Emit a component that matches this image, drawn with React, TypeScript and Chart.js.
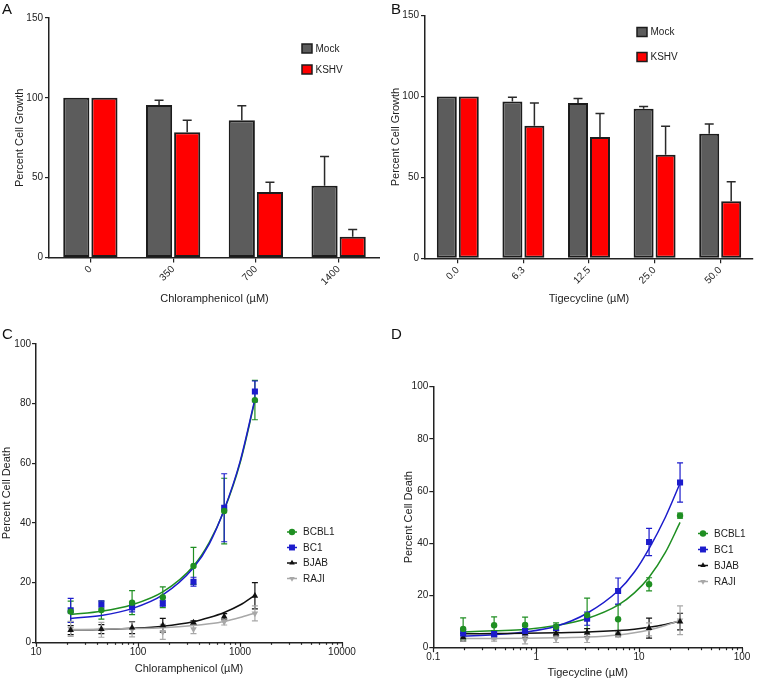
import React, { useEffect, useRef } from 'react';
import { Chart, registerables } from 'chart.js';

Chart.register(...registerables);

const FONT = "'Liberation Sans', Arial, Helvetica, sans-serif";
Chart.defaults.font.family = FONT;
Chart.defaults.color = '#222';

// ---------- Panel A: Chloramphenicol bars ----------
const chlorCategories = ['0', '350', '700', '1400'];
const chlorMock = [100, 95.5, 86, 45];
const chlorMockErr = [0, 3, 9, 18.3];
const chlorKshv = [100, 78.5, 41, 13];
const chlorKshvErr = [0, 7.5, 6.2, 4.6];

// ---------- Panel B: Tigecycline bars ----------
const tigeCategories = ['0.0', '6.3', '12.5', '25.0', '50.0'];
const tigeMock = [100, 97, 96, 92.5, 77];
const tigeMockErr = [0, 2.6, 2.8, 1.3, 6];
const tigeKshv = [100, 82, 75, 64, 35.3];
const tigeKshvErr = [0, 14, 14.5, 17.7, 12];

const barTicks = [0, 50, 100, 150];

// ---------- Panel C: Chloramphenicol dose response ----------
const chlorDoses = [21.875, 43.75, 87.5, 175, 350, 700, 1400];
const cBCBL1 = [10.3, 10.8, 13.3, 15.1, 25.6, 44.0, 81.2];
const cBCBL1Err = [3.5, 3, 4, 3.5, 6.2, 11, 6.6];
const cBC1 = [10.7, 12.7, 11.7, 13.1, 20.3, 45.1, 84.1];
const cBC1Err = [4, 1.2, 1.5, 1, 1.5, 11.4, 3.5];
const cBJAB = [4.1, 4.4, 4.9, 5.7, 6.6, 8.6, 15.6];
const cBJABErr = [1.5, 1.5, 2, 2.3, 0.6, 1, 4.4];
const cRAJI = [4.5, 4.2, 4.3, 3.5, 4.4, 6.8, 9.7];
const cRAJIErr = [2.5, 2.5, 2.5, 2.5, 1.5, 1, 2.5];
const chlorFitDoses = [21.875, 43.75, 87.5, 175, 350, 500, 700, 1000, 1400];
const cBCBL1Fit = [9.3, 10.4, 12.6, 16.9, 25.6, 33.5, 44.3, 60.0, 81.0];
const cBC1Fit = [8.0, 9.0, 11.3, 15.9, 25.0, 33.0, 44.5, 60.5, 81.5];
const cBJABFit = [4.2, 4.3, 4.7, 5.4, 6.9, 8.3, 10.0, 12.5, 15.8];
const cRAJIFit = [4.3, 4.4, 4.6, 4.9, 5.6, 6.2, 7.0, 8.3, 9.8];
const chlorMajorTicks = [10, 100, 1000, 10000];

// ---------- Panel D: Tigecycline dose response ----------
const tigeDoses = [0.195, 0.39, 0.78, 1.56, 3.125, 6.25, 12.5, 25];
const dBCBL1 = [7.2, 8.6, 8.7, 8.0, 12.5, 10.9, 24.3, 50.6];
const dBCBL1Err = [4.2, 3.2, 3, 1.5, 6.5, 5.5, 2.5, 1];
const dBC1 = [5.5, 5.2, 6.4, 7.6, 11.1, 21.7, 40.5, 63.3];
const dBC1Err = [1.5, 1.3, 1.7, 1, 2.5, 5, 5.2, 7.5];
const dBJAB = [4, 5, 5.5, 5.5, 5.8, 5.5, 7.5, 10];
const dBJABErr = [1.5, 1.5, 1.5, 1, 1.5, 1, 3.8, 3.2];
const dRAJI = [3.5, 3.5, 3, 3.5, 3.5, 5, 7, 10.5];
const dRAJIErr = [1, 1, 1.5, 1.5, 1.5, 1, 2.5, 5.5];
const tigeFitDoses = [0.195, 0.39, 0.78, 1.56, 3.125, 6.25, 9, 12.5, 18, 25];
const dBCBL1Fit = [6.0, 6.5, 7.0, 8.5, 11.2, 16.3, 21, 27, 36.5, 48];
const dBC1Fit = [4.4, 5.0, 6.0, 8.2, 13.2, 21.8, 29, 38, 50, 63];
const dBJABFit = [5.3, 5.4, 5.5, 5.7, 6.0, 6.6, 7.1, 7.8, 8.9, 10.2];
const dRAJIFit = [3.5, 3.5, 3.6, 3.8, 4.1, 4.9, 5.7, 6.8, 8.5, 10.5];
const tigeMajorTicks = [0.1, 1, 10, 100];

const deathTicks = [0, 20, 40, 60, 80, 100];

// ---------- styles ----------
const MOCK_FILL = '#5c5c5c';
const KSHV_FILL = '#ff0000';
const BAR_EDGE = '#1c1c1c';
const GREEN = '#1f8f22';
const BLUE = '#1c1ccc';
const BLACK = '#111111';
const GRAY = '#a8a8a8';
const AXIS = '#222222';

function withMinorTicks(majors: number[]): number[] {
  const out: number[] = [];
  for (let i = 0; i < majors.length; i++) {
    out.push(majors[i]);
    if (i < majors.length - 1) {
      for (let k = 2; k <= 9; k++) out.push(+(majors[i] * k).toPrecision(6));
    }
  }
  return out;
}

const toXY = (xs: number[], ys: number[]) => ys.map((y, i) => ({ x: xs[i], y }));

// ---------- plugins ----------
const errorBarPlugin = {
  id: 'errorBars',
  beforeDatasetsDraw(chart: any) {
    const ctx = chart.ctx;
    chart.data.datasets.forEach((ds: any, di: number) => {
      if (!ds.errors) return;
      const meta = chart.getDatasetMeta(di);
      const yScale = chart.scales[meta.yAxisID];
      ctx.save();
      ctx.strokeStyle = ds.errorColor;
      ctx.lineWidth = ds.errorWidth;
      meta.data.forEach((el: any, i: number) => {
        const e = ds.errors[i];
        if (!e) return;
        const raw = ds.data[i];
        const v = typeof raw === 'number' ? raw : raw.y;
        const x = el.x;
        const yTop = yScale.getPixelForValue(v + e);
        const yBot = ds.errorUpOnly ? el.y : yScale.getPixelForValue(v - e);
        const half = ds.errorCap / 2;
        ctx.beginPath();
        ctx.moveTo(x, yBot);
        ctx.lineTo(x, yTop);
        ctx.moveTo(x - half, yTop);
        ctx.lineTo(x + half, yTop);
        if (!ds.errorUpOnly) {
          ctx.moveTo(x - half, yBot);
          ctx.lineTo(x + half, yBot);
        }
        ctx.stroke();
      });
      ctx.restore();
    });
  },
};

function drawMarker(ctx: any, style: string, x: number, y: number, r: number) {
  ctx.beginPath();
  if (style === 'circle') {
    ctx.arc(x, y, r, 0, Math.PI * 2);
  } else if (style === 'rect') {
    const s = r * Math.SQRT1_2;
    ctx.rect(x - s, y - s, 2 * s, 2 * s);
  } else if (style === 'triangle') {
    ctx.moveTo(x, y - r);
    ctx.lineTo(x + r * 0.866, y + r * 0.5);
    ctx.lineTo(x - r * 0.866, y + r * 0.5);
    ctx.closePath();
  } else if (style === 'triangleDown') {
    ctx.moveTo(x, y + r);
    ctx.lineTo(x + r * 0.866, y - r * 0.5);
    ctx.lineTo(x - r * 0.866, y - r * 0.5);
    ctx.closePath();
  }
  ctx.fill();
}

const customLegendPlugin = {
  id: 'customLegend',
  afterDraw(chart: any, _args: any, opts: any) {
    const ctx = chart.ctx;
    const items = chart.data.datasets.filter((d: any) => d.inLegend);
    ctx.save();
    ctx.font = `10px ${FONT}`;
    ctx.textBaseline = 'middle';
    ctx.textAlign = 'left';
    items.forEach((ds: any, i: number) => {
      const y = opts.y + i * opts.gap;
      const x = opts.x;
      if (opts.kind === 'box') {
        ctx.fillStyle = ds.backgroundColor;
        ctx.fillRect(x, y - 4.5, 10, 9);
        ctx.strokeStyle = BAR_EDGE;
        ctx.lineWidth = 1.5;
        ctx.strokeRect(x, y - 4.5, 10, 9);
        ctx.fillStyle = '#222';
        ctx.fillText(ds.label, x + 13.5, y + 0.5);
      } else {
        ctx.strokeStyle = ds.pointBackgroundColor;
        ctx.lineWidth = 1.5;
        ctx.beginPath();
        ctx.moveTo(x - 5, y);
        ctx.lineTo(x + 5, y);
        ctx.stroke();
        ctx.fillStyle = ds.pointBackgroundColor;
        const st = ds.pointRotation === 180 ? 'triangleDown' : ds.pointStyle;
        drawMarker(ctx, st, x, y, st === 'rect' ? 4.2 : 3.2);
        ctx.fillStyle = '#222';
        ctx.fillText(ds.label, x + 11, y + 0.5);
      }
    });
    ctx.restore();
  },
};

const logTickPlugin = {
  id: 'logTicks',
  afterDraw(chart: any, _args: any, opts: any) {
    const scale = chart.scales.x;
    const ctx = chart.ctx;
    ctx.save();
    ctx.strokeStyle = AXIS;
    ctx.lineWidth = 1.2;
    scale.ticks.forEach((t: any) => {
      const x = Math.round(scale.getPixelForValue(t.value)) + 0.5;
      const len = opts.majors.includes(t.value) ? 4.5 : 2.5;
      ctx.beginPath();
      ctx.moveTo(x, scale.top);
      ctx.lineTo(x, scale.top + len);
      ctx.stroke();
    });
    ctx.restore();
  },
};

// ---------- chart configs ----------
function barConfig(p: any) {
  return {
    type: 'bar',
    data: {
      labels: p.labels,
      datasets: [
        {
          label: 'Mock', data: p.mock, errors: p.mockErr, inLegend: true,
          backgroundColor: MOCK_FILL, borderColor: BAR_EDGE, borderWidth: 2, borderSkipped: false,
          categoryPercentage: p.catPct, barPercentage: p.barPct,
          errorColor: '#2a2a2a', errorWidth: 1.5, errorCap: 9, errorUpOnly: true,
        },
        {
          label: 'KSHV', data: p.kshv, errors: p.kshvErr, inLegend: true,
          backgroundColor: KSHV_FILL, borderColor: BAR_EDGE, borderWidth: 2, borderSkipped: false,
          categoryPercentage: p.catPct, barPercentage: p.barPct,
          errorColor: '#2a2a2a', errorWidth: 1.5, errorCap: 9, errorUpOnly: true,
        },
      ],
    },
    options: {
      responsive: false,
      animation: false,
      events: [],
      layout: { padding: { top: p.padTop, right: p.padRight, left: 0, bottom: 0 } },
      plugins: {
        legend: { display: false },
        tooltip: { enabled: false },
        customLegend: { kind: 'box', x: p.legX, y: p.legY, gap: p.legGap },
      },
      scales: {
        x: {
          type: 'category',
          offset: true,
          grid: { offset: false, drawOnChartArea: false, drawTicks: true, tickLength: 5, color: AXIS, lineWidth: 1.2 },
          border: { display: true, color: AXIS, width: 1.5 },
          ticks: { minRotation: 45, maxRotation: 45, font: { size: 10 }, color: '#222', padding: 1 },
          title: { display: true, text: p.xTitle, font: { size: 11 }, color: '#222', padding: { top: 0, bottom: p.xTitlePad } },
          afterFit: (s: any) => { s.height = p.xHeight; },
        },
        y: {
          min: 0, max: 150,
          afterBuildTicks: (s: any) => { s.ticks = barTicks.map((v) => ({ value: v })); },
          grid: { drawOnChartArea: false, drawTicks: true, tickLength: 4, color: AXIS, lineWidth: 1.2 },
          border: { display: true, color: AXIS, width: 1.5 },
          ticks: { font: { size: 10 }, color: '#222', padding: 2 },
          title: { display: true, text: 'Percent Cell Growth', font: { size: 11 }, color: '#222', padding: { top: p.yTitlePad, bottom: 0 } },
          afterFit: (s: any) => { s.width = p.yWidth; },
        },
      },
    },
    plugins: [errorBarPlugin, customLegendPlugin],
  };
}

function pointSet(label: string, xs: number[], ys: number[], errs: number[], color: string, style: string, rot: number, radius: number) {
  return {
    type: 'line', label, data: toXY(xs, ys), errors: errs, inLegend: true,
    showLine: false, pointStyle: style, pointRotation: rot, pointRadius: radius,
    pointBackgroundColor: color, pointBorderColor: color, pointBorderWidth: 0,
    borderColor: color, backgroundColor: color,
    errorColor: color, errorWidth: 1.2, errorCap: 6, errorUpOnly: false,
    order: 0,
  };
}

function fitSet(xs: number[], ys: number[], color: string) {
  return {
    type: 'line', label: '', data: toXY(xs, ys),
    showLine: true, pointRadius: 0, borderColor: color, borderWidth: 1.5,
    cubicInterpolationMode: 'monotone', fill: false, order: 1,
  };
}

function doseConfig(p: any) {
  const allTicks = withMinorTicks(p.majors);
  return {
    type: 'line',
    data: {
      datasets: [
        pointSet('BCBL1', p.doses, p.bcbl1, p.bcbl1Err, GREEN, 'circle', 0, 3.2),
        pointSet('BC1', p.doses, p.bc1, p.bc1Err, BLUE, 'rect', 0, 4.3),
        pointSet('BJAB', p.doses, p.bjab, p.bjabErr, BLACK, 'triangle', 0, 3.8),
        pointSet('RAJI', p.doses, p.raji, p.rajiErr, GRAY, 'triangle', 180, 3.8),
        fitSet(p.fitDoses, p.rajiFit, GRAY),
        fitSet(p.fitDoses, p.bjabFit, BLACK),
        fitSet(p.fitDoses, p.bc1Fit, BLUE),
        fitSet(p.fitDoses, p.bcbl1Fit, GREEN),
      ],
    },
    options: {
      responsive: false,
      animation: false,
      events: [],
      layout: { padding: { top: p.padTop, right: p.padRight, left: 0, bottom: 0 } },
      plugins: {
        legend: { display: false },
        tooltip: { enabled: false },
        customLegend: { kind: 'line', x: p.legX, y: p.legY, gap: p.legGap },
        logTicks: { majors: p.majors },
      },
      scales: {
        x: {
          type: 'logarithmic',
          min: p.majors[0], max: p.majors[p.majors.length - 1],
          afterBuildTicks: (s: any) => { s.ticks = allTicks.map((v) => ({ value: v })); },
          grid: { display: true, drawOnChartArea: false, drawTicks: false },
          border: { display: true, color: AXIS, width: 1.5 },
          ticks: {
            autoSkip: false, maxRotation: 0, minRotation: 0, font: { size: 10 }, color: '#222', padding: 4,
            callback: (v: any) => (p.majors.includes(v) ? String(v) : ''),
          },
          title: { display: true, text: p.xTitle, font: { size: 11 }, color: '#222', padding: { top: 0, bottom: p.xTitlePad } },
          afterFit: (s: any) => { s.height = p.xHeight; },
        },
        y: {
          min: 0, max: 100,
          afterBuildTicks: (s: any) => { s.ticks = deathTicks.map((v) => ({ value: v })); },
          grid: { drawOnChartArea: false, drawTicks: true, tickLength: 4, color: AXIS, lineWidth: 1.2 },
          border: { display: true, color: AXIS, width: 1.5 },
          ticks: { font: { size: 10 }, color: '#222', padding: 1 },
          title: { display: true, text: 'Percent Cell Death', font: { size: 11 }, color: '#222', padding: { top: p.yTitlePad, bottom: 0 } },
          afterFit: (s: any) => { s.width = p.yWidth; },
        },
      },
    },
    plugins: [errorBarPlugin, customLegendPlugin, logTickPlugin],
  };
}

const configA = () => barConfig({
  labels: chlorCategories, mock: chlorMock, mockErr: chlorMockErr, kshv: chlorKshv, kshvErr: chlorKshvErr,
  catPct: 0.68, barPct: 0.93, padTop: 18, padRight: 0, xHeight: 62.5, yWidth: 49,
  xTitle: 'Chloramphenicol (\u00b5M)', xTitlePad: 14, yTitlePad: 13,
  legX: 302, legY: 48.5, legGap: 21,
});

const configB = () => barConfig({
  labels: tigeCategories, mock: tigeMock, mockErr: tigeMockErr, kshv: tigeKshv, kshvErr: tigeKshvErr,
  catPct: 0.67, barPct: 0.91, padTop: 15.7, padRight: 4, xHeight: 61.7, yWidth: 45,
  xTitle: 'Tigecycline (\u00b5M)', xTitlePad: 14, yTitlePad: 9.5,
  legX: 257, legY: 32, legGap: 25,
});

const configC = () => doseConfig({
  doses: chlorDoses, bcbl1: cBCBL1, bcbl1Err: cBCBL1Err, bc1: cBC1, bc1Err: cBC1Err,
  bjab: cBJAB, bjabErr: cBJABErr, raji: cRAJI, rajiErr: cRAJIErr,
  fitDoses: chlorFitDoses, bcbl1Fit: cBCBL1Fit, bc1Fit: cBC1Fit, bjabFit: cBJABFit, rajiFit: cRAJIFit,
  majors: chlorMajorTicks, padTop: 14, padRight: 38, xHeight: 39.7, yWidth: 36,
  xTitle: 'Chloramphenicol (\u00b5M)', xTitlePad: 6, yTitlePad: 0,
  legX: 292, legY: 202, legGap: 15.5,
});

const configD = () => doseConfig({
  doses: tigeDoses, bcbl1: dBCBL1, bcbl1Err: dBCBL1Err, bc1: dBC1, bc1Err: dBC1Err,
  bjab: dBJAB, bjabErr: dBJABErr, raji: dRAJI, rajiErr: dRAJIErr,
  fitDoses: tigeFitDoses, bcbl1Fit: dBCBL1Fit, bc1Fit: dBC1Fit, bjabFit: dBJABFit, rajiFit: dRAJIFit,
  majors: tigeMajorTicks, padTop: 56.7, padRight: 15, xHeight: 34.3, yWidth: 53.3,
  xTitle: 'Tigecycline (\u00b5M)', xTitlePad: 2.5, yTitlePad: 22.8,
  legX: 323, legY: 203.5, legGap: 16,
});

function ChartCanvas({ make, left, top, width, height }: any) {
  const ref = useRef<HTMLCanvasElement>(null);
  useEffect(() => {
    const chart = new Chart(ref.current as HTMLCanvasElement, make() as any);
    return () => chart.destroy();
  }, []);
  return (
    <canvas
      ref={ref}
      width={width}
      height={height}
      style={{ position: 'absolute', left, top, width, height }}
    />
  );
}

function PanelLabel({ text, left, top }: any) {
  return (
    <div style={{ position: 'absolute', left, top, fontFamily: FONT, fontSize: 15, lineHeight: '15px', color: '#111' }}>
      {text}
    </div>
  );
}

export default function App() {
  return (
    <div style={{ position: 'absolute', left: 0, top: 0, width: 757, height: 682, background: '#fff', overflow: 'hidden' }}>
      <ChartCanvas make={configA} left={0} top={0} width={380} height={320} />
      <ChartCanvas make={configB} left={380} top={0} width={377} height={320} />
      <ChartCanvas make={configC} left={0} top={330} width={380} height={352} />
      <ChartCanvas make={configD} left={380} top={330} width={377} height={352} />
      <PanelLabel text="A" left={2} top={1} />
      <PanelLabel text="B" left={391} top={1} />
      <PanelLabel text="C" left={2} top={326} />
      <PanelLabel text="D" left={391} top={326} />
    </div>
  );
}
